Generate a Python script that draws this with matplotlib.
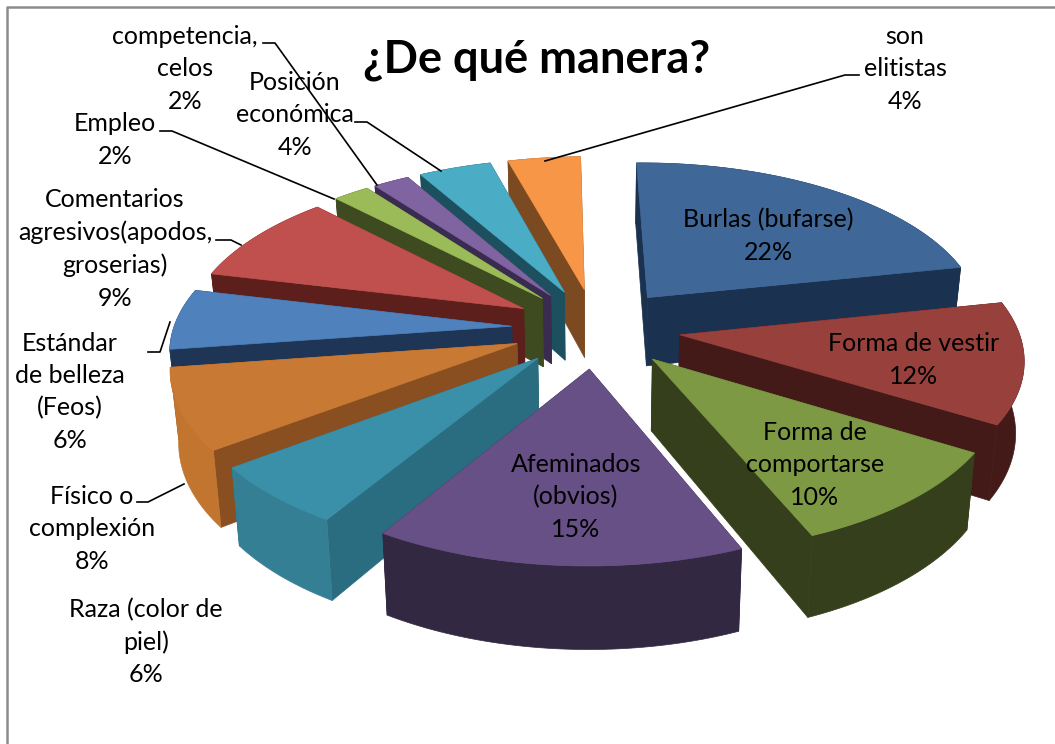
import numpy as np
import matplotlib
matplotlib.use("Agg")
import matplotlib.pyplot as plt

plt.rcParams['font.family'] = ['Lato', 'DejaVu Sans']

# slices, clockwise from 12 o'clock
labels = ["Burlas (bufarse)\n22%", "Forma de vestir\n12%", "Forma de\ncomportarse\n10%",
          "Afeminados\n(obvios)\n15%", "Raza (color de\npiel)\n6%", "Físico o\ncomplexión\n8%",
          "Estándar\nde belleza\n(Feos)\n6%", "Comentarios\nagresivos(apodos,\ngroserias)\n9%",
          "Empleo\n2%", "competencia,\ncelos\n2%", "Posición\neconómica\n4%", "son\nelitistas\n4%"]
values = [22, 12, 10, 15, 6, 8, 6, 9, 2, 2, 4, 4]
top_colors = ["#3f6797", "#98403c", "#7d9944", "#675086", "#3a90a8", "#c87a35",
              "#4f81bd", "#c0504d", "#9bbb59", "#8064a2", "#4bacc6", "#f79646"]
wall_colors = ["#1a314f", "#431a18", "#363f1b", "#322842", "#2a6d80", "#8a4f20",
               "#1e3555", "#5c1f1c", "#3e4a1f", "#3a2c50", "#1d505e", "#7c4a20"]
arc_colors = ["#1a314f", "#431a18", "#363f1b", "#322842", "#357f94", "#c1752f",
              "#1e3555", "#5c1f1c", "#3e4a1f", "#3a2c50", "#1d505e", "#7c4a20"]
label_pos = [(768, 236), (914, 360), (815, 465), (576, 497), (146, 642), (92, 529),
             (70, 392), (115, 249), (115, 140), (185, 69), (295, 115), (905, 69)]

cx, cy = 596, 328
R, squash, persp = 338, 0.472, 0.13
explode = 0.25
height = 70
start = np.radians(-1.0)


def project(x, y, z=0):
    s = 1 / (1 + persp * y)
    return cx + R * x * s * (1 - 0.02 * z), cy - R * squash * y * s + height * z * s


fig = plt.figure(figsize=(10.55, 7.44), dpi=100)
ax = fig.add_axes([0, 0, 1, 1])
ax.set_xlim(0, 1055)
ax.set_ylim(744, 0)
ax.axis('off')

edges = start + np.cumsum([0] + values) / sum(values) * 2 * np.pi
mids = (edges[:-1] + edges[1:]) / 2

# back slices first
for i in np.argsort(-np.cos(mids)):
    ox, oy = explode * np.sin(mids[i]), explode * np.cos(mids[i])
    t = np.linspace(edges[i], edges[i + 1], 60)
    x = ox + np.sin(t)
    y = oy + np.cos(t)
    ax_top = project(x, y)
    ax_low = project(x, y, 1)
    apex_top = project(ox, oy)
    apex_low = project(ox, oy, 1)
    # radial walls
    for k in (0, -1):
        ax.fill([apex_top[0], ax_top[0][k], ax_low[0][k], apex_low[0]],
                [apex_top[1], ax_top[1][k], ax_low[1][k], apex_low[1]],
                color=wall_colors[i], lw=0.5)
    # outer rim
    ax.fill(np.r_[ax_top[0], ax_low[0][::-1]], np.r_[ax_top[1], ax_low[1][::-1]],
            color=arc_colors[i], lw=0.5)
    ax.fill(np.r_[apex_top[0], ax_top[0]], np.r_[apex_top[1], ax_top[1]],
            color=top_colors[i], lw=0.5)

# leader lines
leaders = [([263, 275, 377], [43, 43, 185]), ([160, 172, 334], [131, 131, 199]),
           ([355, 367, 441], [122, 122, 171]), ([216, 231, 241], [240, 240, 245]),
           ([148, 160, 170], [352, 352, 322]), ([137, 148, 184], [502, 502, 484]),
           ([859, 845, 545], [75, 75, 161])]
for lx, ly in leaders:
    ax.plot(lx, ly, color='black', lw=1.2)

for lab, (px, py) in zip(labels, label_pos):
    ax.text(px, py, lab, ha='center', va='center', fontsize=18, color='black',
            linespacing=1.48, zorder=5)

ax.text(537, 60, "¿De qué manera?", ha='center', va='center', fontsize=32.5,
        fontweight='bold', color='black', zorder=5)

# chart frame, only left and top fall inside the picture
ax.plot([7, 7, 1055], [744, 7, 7], color='#8c8c8c', lw=1.8)

fig.savefig("out.png", dpi=100)
